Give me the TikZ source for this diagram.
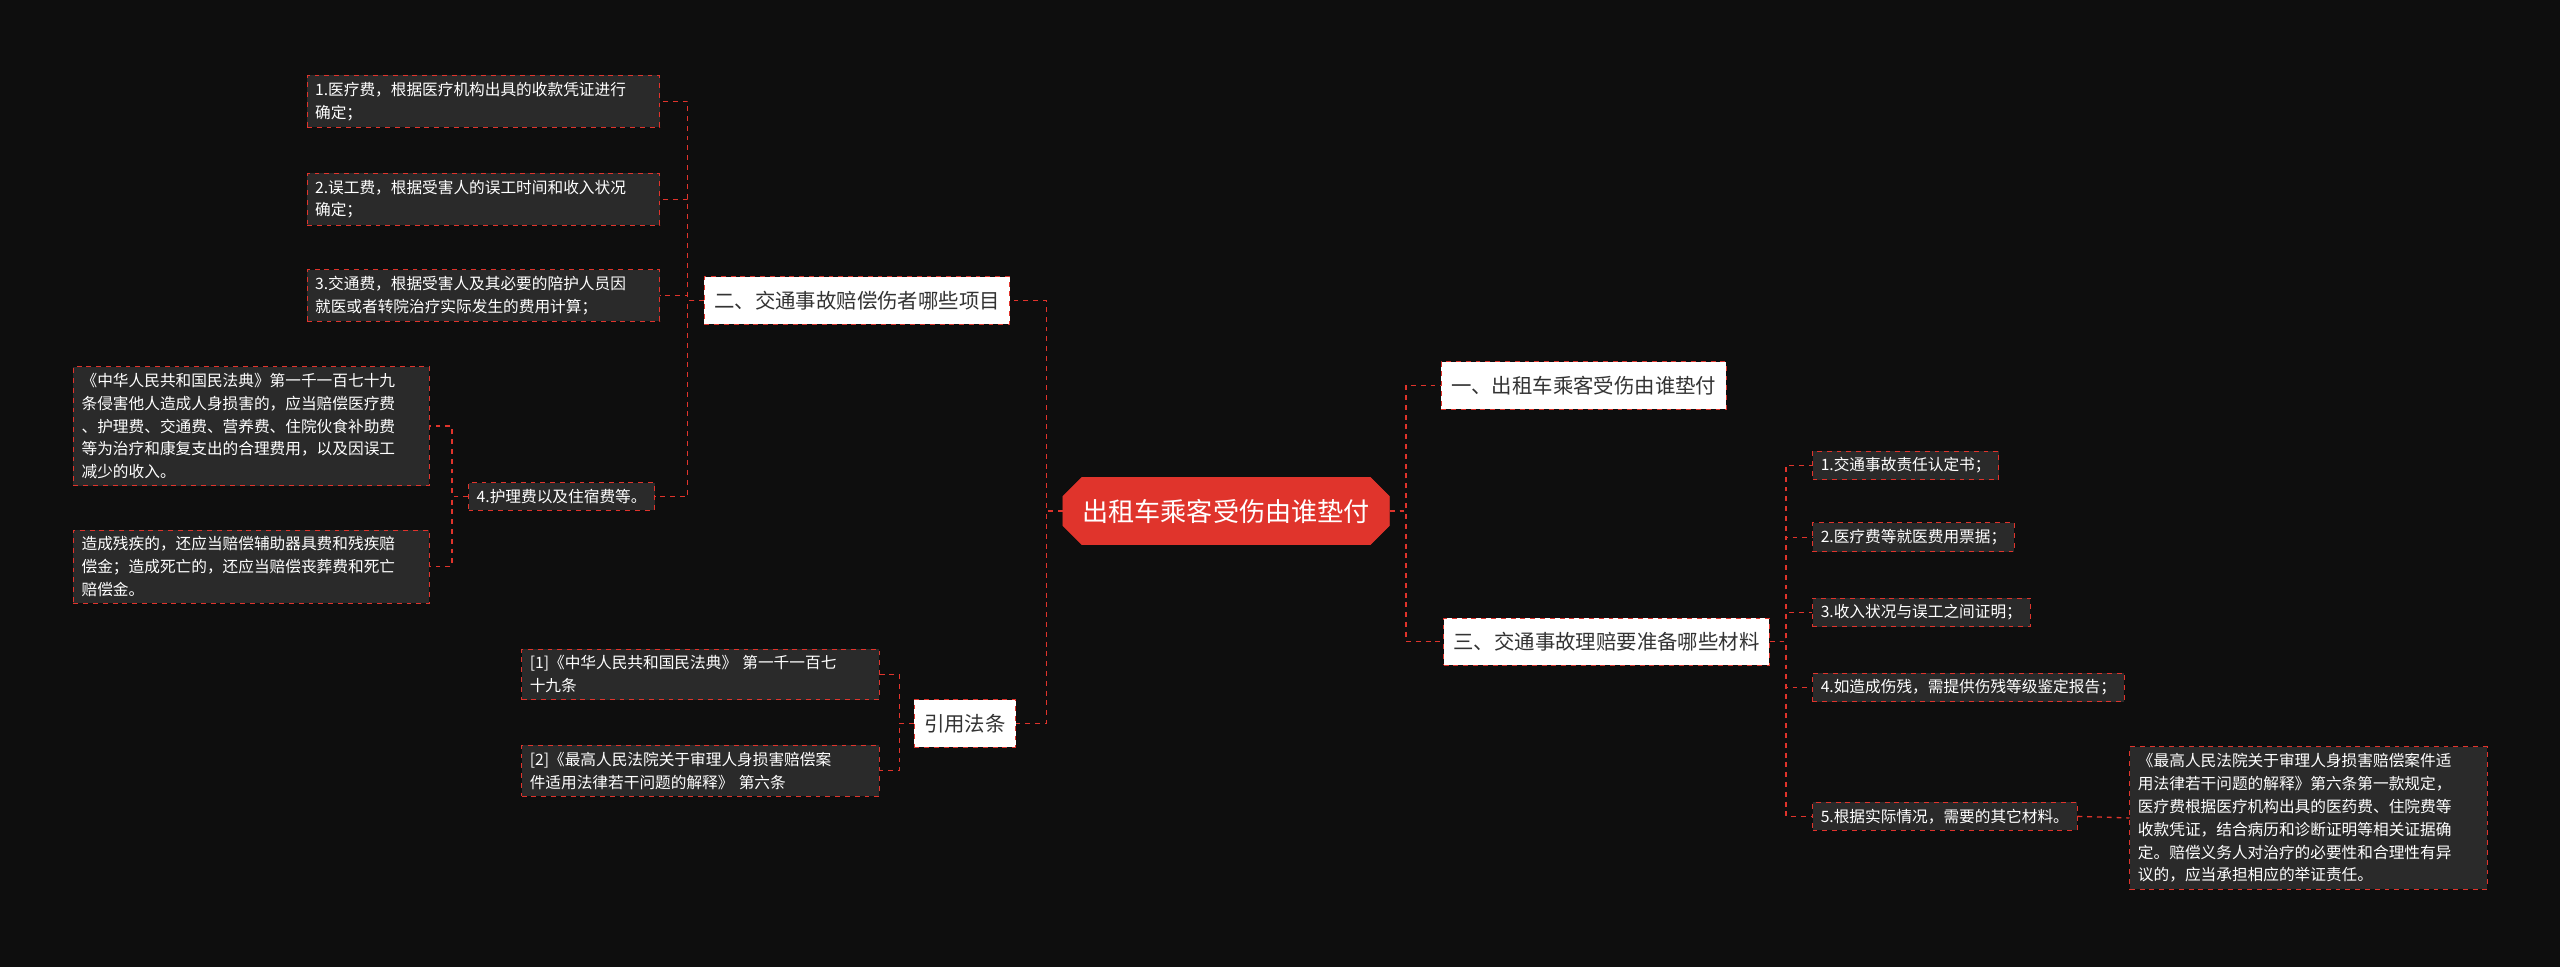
\documentclass[tikz,border=0pt]{standalone}
\usepackage{fontspec}
\setmainfont{Noto Sans CJK SC}
\usetikzlibrary{positioning,shapes.misc}
\definecolor{bg}{HTML}{0E0E0E}
\definecolor{boxbg}{HTML}{2A2A2A}
\definecolor{edge}{HTML}{E0342C}
\begin{document}
\begin{tikzpicture}[x=1pt,y=-1pt]
	\tikzstyle{root} = [chamfered rectangle, chamfered rectangle xsep=8pt, fill=edge, draw=edge, text=white, font=\fontsize{16}{20}\selectfont, minimum height=41pt, inner xsep=4pt]
	\tikzstyle{topic} = [draw=edge, dashed, fill=white, text=black!80, font=\fontsize{12.5}{16}\selectfont, minimum height=29pt, inner xsep=6pt]
	\tikzstyle{leaf} = [draw=edge, dashed, fill=boxbg, text=white, font=\fontsize{9.6}{14}\selectfont, align=left, inner xsep=5pt, inner ysep=4pt]
	\tikzstyle{link} = [draw=edge, dashed, thick]
	
	\fill [bg] (0,0) rectangle (1568,592);
	\useasboundingbox (0,0) rectangle (1568,592);
	
	\node [root] (main) at (751,313) {出租车乘客受伤由谁垫付};
	
	\node [topic] (who) at (970,236) {一、出租车乘客受伤由谁垫付};
	\node [topic] (items) at (525,184) {二、交通事故赔偿伤者哪些项目};
	\node [topic] (docs) at (984,393) {三、交通事故理赔要准备哪些材料};
	\node [topic] (law) at (591,443) {引用法条};
	
	\node [leaf, text width=206pt] (fee1) at (296,62) {1.医疗费，根据医疗机构出具的收款凭证进行\\确定；};
	\node [leaf, text width=206pt] (fee2) at (296,122) {2.误工费，根据受害人的误工时间和收入状况\\确定；};
	\node [leaf, text width=206pt] (fee3) at (296,181) {3.交通费，根据受害人及其必要的陪护人员因\\就医或者转院治疗实际发生的费用计算；};
	\node [leaf] (fee4) at (344,304) {4.护理费以及住宿费等。};
	
	\node [leaf, text width=208pt] (code1) at (154,261) {《中华人民共和国民法典》第一千一百七十九\\条侵害他人造成人身损害的，应当赔偿医疗费\\、护理费、交通费、营养费、住院伙食补助费\\等为治疗和康复支出的合理费用，以及因误工\\减少的收入。};
	\node [leaf, text width=208pt] (code2) at (154,347) {造成残疾的，还应当赔偿辅助器具费和残疾赔\\偿金；造成死亡的，还应当赔偿丧葬费和死亡\\赔偿金。};
	
	\node [leaf, text width=209pt] (ref1) at (429,413) {[1]《中华人民共和国民法典》 第一千一百七\\十九条};
	\node [leaf, text width=209pt] (ref2) at (429,472) {[2]《最高人民法院关于审理人身损害赔偿案\\件适用法律若干问题的解释》 第六条};
	
	\node [leaf, anchor=west] (doc1) at (1110,285) {1.交通事故责任认定书；};
	\node [leaf, anchor=west] (doc2) at (1110,329) {2.医疗费等就医费用票据；};
	\node [leaf, anchor=west] (doc3) at (1110,375) {3.收入状况与误工之间证明；};
	\node [leaf, anchor=west] (doc4) at (1110,421) {4.如造成伤残，需提供伤残等级鉴定报告；};
	\node [leaf, anchor=west] (doc5) at (1110,500) {5.根据实际情况，需要的其它材料。};
	\node [leaf, text width=209pt] (rule) at (1414,501) {《最高人民法院关于审理人身损害赔偿案件适\\用法律若干问题的解释》第六条第一款规定，\\医疗费根据医疗机构出具的医药费、住院费等\\收款凭证，结合病历和诊断证明等相关证据确\\定。赔偿义务人对治疗的必要性和合理性有异\\议的，应当承担相应的举证责任。};
	
	\draw [link] (main.east) -- ++(10,0) |- (who.west);
	\draw [link] (main.east) -- ++(10,0) |- (docs.west);
	\draw [link] (main.west) -- ++(-10,0) |- (items.east);
	\draw [link] (main.west) -- ++(-10,0) |- (law.east);
	\foreach \leaf in {fee1,fee2,fee3,fee4}
		\draw [link] (items.west) -- ++(-10,0) |- (\leaf.east);
	\foreach \leaf in {code1,code2}
		\draw [link] (fee4.west) -- ++(-10,0) |- (\leaf.east);
	\foreach \leaf in {ref1,ref2}
		\draw [link] (law.west) -- ++(-9,0) |- (\leaf.east);
	\foreach \leaf in {doc1,doc2,doc3,doc4,doc5}
		\draw [link] (docs.east) -- ++(10,0) |- (\leaf.west);
	\draw [link] (doc5.east) -- (rule.west);
\end{tikzpicture}
\end{document}
